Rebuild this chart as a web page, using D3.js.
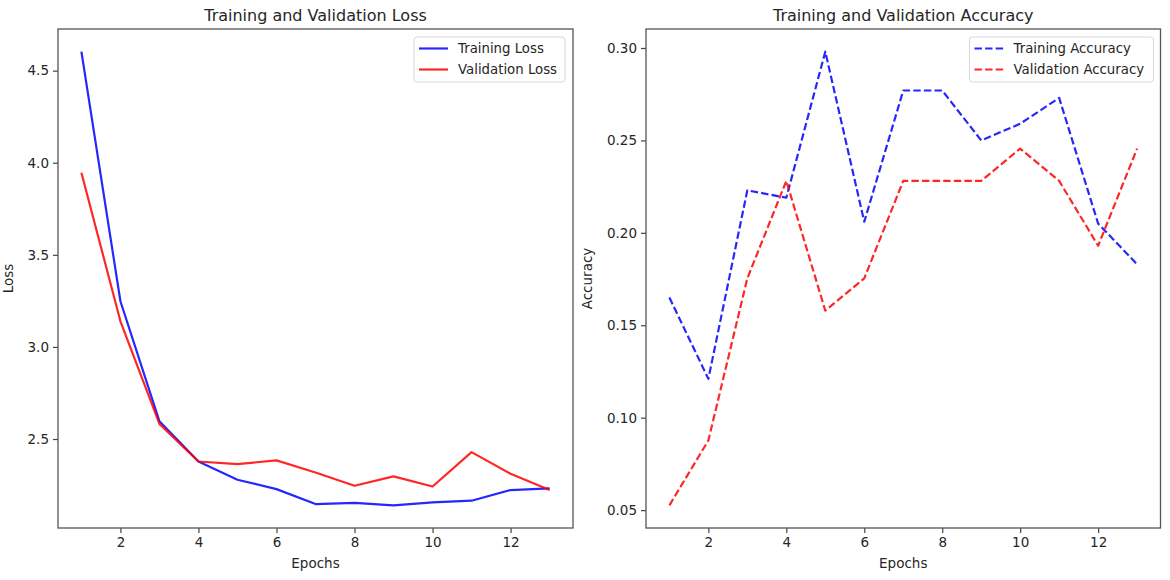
<!DOCTYPE html>
<html>
<head>
<meta charset="utf-8">
<script src="https://cdn.jsdelivr.net/npm/d3@7"></script>
<style>
  body { margin: 0; background: #fff; }
  svg { display: block; font-family: "DejaVu Sans", sans-serif; }
</style>
</head>
<body>
<svg id="chart" width="1170" height="580"></svg>
<script>
const epochs = [1, 2, 3, 4, 5, 6, 7, 8, 9, 10, 11, 12, 13];
const trainLoss = [4.603, 3.248, 2.596, 2.378, 2.279, 2.228, 2.147, 2.153, 2.140, 2.156, 2.165, 2.223, 2.232];
const valLoss = [3.946, 3.139, 2.582, 2.378, 2.364, 2.384, 2.318, 2.246, 2.297, 2.242, 2.429, 2.311, 2.223];
const trainAcc = [0.165, 0.121, 0.223, 0.219, 0.298, 0.206, 0.277, 0.277, 0.250, 0.259, 0.273, 0.205, 0.183];
const valAcc = [0.0526, 0.0877, 0.1754, 0.2281, 0.1579, 0.1754, 0.2281, 0.2281, 0.2281, 0.2456, 0.2281, 0.1930, 0.2456];
const xTicks = [2, 4, 6, 8, 10, 12];
const lossTicks = [2.5, 3.0, 3.5, 4.0, 4.5];
const accTicks = [0.05, 0.10, 0.15, 0.20, 0.25, 0.30];

const svg = d3.select("#chart");
svg.append("rect").attr("width", 1170).attr("height", 580).attr("fill", "#fff");

// matplotlib style 5% padding
const padExtent = (arrs) => {
  const all = arrs.flat();
  const lo = d3.min(all), hi = d3.max(all);
  const m = (hi - lo) * 0.05;
  return [lo - m, hi + m];
};

const drawPanel = (opt) => {
  const { left, right, top, bottom } = opt;
  const g = svg.append("g");
  const x = d3.scaleLinear().domain(padExtent([epochs])).range([left, right]);
  const y = d3.scaleLinear().domain(padExtent(opt.series.map((s) => s.values))).range([bottom, top]);

  const xAxis = g.append("g")
    .attr("transform", `translate(0,${bottom})`)
    .call(d3.axisBottom(x).tickValues(xTicks).tickSize(5).tickPadding(4).tickFormat(d3.format("d")));
  const yAxis = g.append("g")
    .attr("transform", `translate(${left},0)`)
    .call(d3.axisLeft(y).tickValues(opt.ticks).tickSize(5).tickPadding(4).tickFormat(d3.format(opt.fmt)));
  [xAxis, yAxis].forEach((a) => {
    a.select(".domain").remove();
    a.selectAll(".tick line").attr("stroke", "#444").attr("stroke-width", 1.2);
    a.selectAll(".tick text").attr("fill", "#262626").style("font-size", "13.5px").style("font-family", "DejaVu Sans");
  });

  const line = (vals) => d3.line().x((d, i) => x(epochs[i])).y((d) => y(d))(vals);
  opt.series.forEach((s) => {
    g.append("path")
      .attr("d", line(s.values))
      .attr("fill", "none")
      .attr("stroke", s.color)
      .attr("stroke-opacity", 0.85)
      .attr("stroke-width", 2.2)
      .attr("stroke-dasharray", opt.dash)
      .attr("stroke-linejoin", "round");
  });

  g.append("rect")
    .attr("x", left).attr("y", top)
    .attr("width", right - left).attr("height", bottom - top)
    .attr("fill", "none").attr("stroke", "#555").attr("stroke-width", 1.3);

  g.append("text")
    .attr("x", (left + right) / 2).attr("y", 21)
    .attr("text-anchor", "middle").attr("fill", "#262626")
    .style("font-size", "16px").text(opt.title);
  g.append("text")
    .attr("x", (left + right) / 2).attr("y", 568)
    .attr("text-anchor", "middle").attr("fill", "#262626")
    .style("font-size", "13.5px").text("Epochs");
  g.append("text")
    .attr("transform", `translate(${opt.ylabX},${(top + bottom) / 2}) rotate(-90)`)
    .attr("text-anchor", "middle").attr("fill", "#262626")
    .style("font-size", "13.5px").text(opt.ylabel);

  // legend
  const lg = g.append("g").attr("transform", `translate(${opt.legX},37)`);
  lg.append("rect")
    .attr("width", opt.legW).attr("height", 45).attr("rx", 3)
    .attr("fill", "#fff").attr("fill-opacity", 0.8)
    .attr("stroke", "#d8d8d8").attr("stroke-width", 1);
  opt.series.forEach((s, i) => {
    const ly = 11.5 + i * 21;
    lg.append("line")
      .attr("x1", 5).attr("x2", 34).attr("y1", ly).attr("y2", ly)
      .attr("stroke", s.color).attr("stroke-opacity", 0.85)
      .attr("stroke-width", 2.2).attr("stroke-dasharray", opt.dash);
    lg.append("text")
      .attr("x", 44).attr("y", ly).attr("dy", "0.35em")
      .attr("fill", "#262626").style("font-size", "13.3px").text(s.name);
  });
};

drawPanel({
  left: 58, right: 573, top: 29, bottom: 528,
  title: "Training and Validation Loss", ylabel: "Loss", ylabX: 13,
  ticks: lossTicks, fmt: ".1f", dash: null,
  legX: 414, legW: 151,
  series: [
    { name: "Training Loss", values: trainLoss, color: "blue" },
    { name: "Validation Loss", values: valLoss, color: "red" }
  ]
});

drawPanel({
  left: 646, right: 1160.5, top: 29, bottom: 528,
  title: "Training and Validation Accuracy", ylabel: "Accuracy", ylabX: 592,
  ticks: accTicks, fmt: ".2f", dash: "7.4,3.2",
  legX: 969.5, legW: 184,
  series: [
    { name: "Training Accuracy", values: trainAcc, color: "blue" },
    { name: "Validation Accuracy", values: valAcc, color: "red" }
  ]
});
</script>
</body>
</html>
